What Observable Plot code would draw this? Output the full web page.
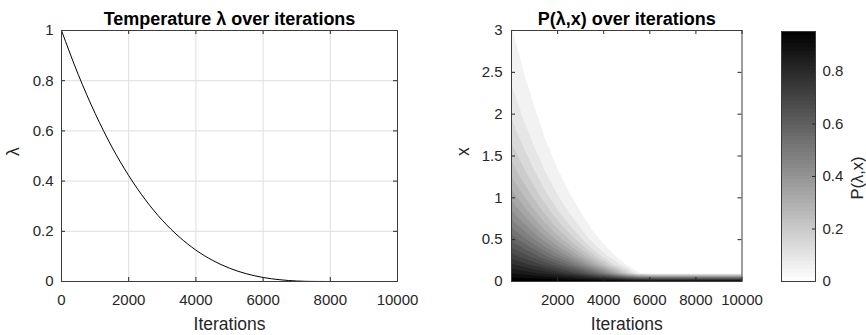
<!DOCTYPE html>
<html><head><meta charset="utf-8">
<script src="https://cdn.jsdelivr.net/npm/d3@7"></script>
<script src="https://cdn.jsdelivr.net/npm/@observablehq/plot@0.6"></script>
<style>
html,body{margin:0;padding:0;background:#fff;}
#wrap{position:relative;width:866px;height:335px;overflow:hidden;background:#fff;}
#wrap svg{position:absolute;top:0;}
</style></head><body><div id="wrap"></div>
<script>
const FONT = "'Liberation Sans', Arial, Helvetica, sans-serif";
const INK = "#262626";

// ---- Left chart: temperature lambda over iterations ----
const lambdaIterations = [0,500,1000,1500,2000,2500,3000,3500,4000,4500,5000,5500,6000,6500,7000,7500,8000,8500,9000,9500,10000];
const lambdaValues = [1.0,0.824,0.67,0.536,0.422,0.325,0.244,0.178,0.125,0.084,0.053,0.031,0.016,0.007,0.002,0.0003,0,0,0,0,0];
const lambdaXTicks = [0,2000,4000,6000,8000,10000];
const lambdaYTicks = [0,0.2,0.4,0.6,0.8,1];

// ---- Right chart: P(lambda, x) over iterations (columns = iterations, rows = x) ----
const probIterations = [0,500,1000,1500,2000,2500,3000,3500,4000,4500,5000,5500,6000,6500,7000,7500,8000,8500,9000,9500,10000];
const probX = [0,0.1,0.2,0.3,0.4,0.5,0.6,0.7,0.8,0.9,1,1.1,1.2,1.3,1.4,1.5,1.6,1.7,1.8,1.9,2,2.1,2.2,2.3,2.4,2.5,2.6,2.7,2.8,2.9,3];
const p0000 = [1,0.905,0.819,0.741,0.670,0.607,0.549,0.497,0.449,0.407,0.368,0.333,0.301,0.273,0.247,0.223,0.202,0.183,0.165,0.150,0.135,0.122,0.111,0.100,0.091,0.082,0.074,0.067,0.061,0.055,0.050];
const p0500 = [1,0.886,0.786,0.697,0.618,0.547,0.485,0.430,0.381,0.338,0.300,0.266,0.236,0.209,0.185,0.164,0.145,0.129,0.114,0.101,0.090,0.080,0.071,0.063,0.055,0.049,0.044,0.039,0.034,0.030,0.027];
const p1000 = [1,0.863,0.745,0.643,0.555,0.479,0.414,0.357,0.308,0.266,0.230,0.198,0.171,0.148,0.128,0.110,0.095,0.082,0.071,0.061,0.053,0.046,0.039,0.034,0.029,0.025,0.022,0.019,0.016,0.014,0.012];
const p1500 = [1,0.834,0.695,0.580,0.483,0.403,0.336,0.280,0.234,0.195,0.162,0.135,0.113,0.094,0.078,0.065,0.055,0.045,0.038,0.032,0.026,0.022,0.018,0.015,0.013,0.011,0.009,0.007,0.006,0.005,0.004];
const p2000 = [1,0.797,0.635,0.506,0.403,0.321,0.256,0.204,0.162,0.129,0.103,0.082,0.065,0.052,0.041,0.033,0.026,0.021,0.017,0.013,0.011,0.008,0.007,0.005,0.004];
const p2500 = [1,0.751,0.565,0.424,0.319,0.240,0.180,0.135,0.102,0.076,0.057,0.043,0.032,0.024,0.018,0.014,0.010,0.008,0.006,0.004];
const p3000 = [1,0.690,0.477,0.329,0.227,0.157,0.108,0.075,0.052,0.036,0.025,0.017,0.012,0.008,0.006,0.004];
const p3500 = [1,0.607,0.368,0.223,0.135,0.082,0.050,0.030,0.018,0.011,0.007,0.004];
const p4000 = [1,0.502,0.252,0.126,0.063,0.032,0.016,0.008,0.004];
const p4500 = [1,0.368,0.135,0.050,0.018,0.007,0.002];
const p5000 = [1,0.215,0.046,0.010,0.002];
const p5500 = [1,0.057,0.003];
const p6000 = [1,0.003];
const p6500 = [1];
const p7000 = [1];
const p7500 = [1];
const p8000 = [1];
const p8500 = [1];
const p9000 = [1];
const p9500 = [1];
const p10000 = [1];
const probColumns = [p0000,p0500,p1000,p1500,p2000,p2500,p3000,p3500,p4000,p4500,p5000,p5500,p6000,p6500,p7000,p7500,p8000,p8500,p9000,p9500,p10000];
const probXTicks = [2000,4000,6000,8000,10000];
const probYTicks = [0,0.5,1,1.5,2,2.5,3];
const probLevels = d3.range(1, 21).map(k => k / 21);
const colorMax = 20 / 21;
const colorbarTicks = [0,0.2,0.4,0.6,0.8];

const wrap = document.getElementById("wrap");
const baseStyle = {fontFamily: FONT, fontSize: "15px", color: INK, background: "transparent", overflow: "visible"};
const fmt = d => String(d);

function place(svg, left) {
  svg.style.left = left + "px";
  wrap.appendChild(svg);
}

// ---------- Left plot ----------
{
  const W = 430, mL = 61, mR = 33, mT = 30, mB = 54;
  const fw = W - mL - mR, fh = 335 - mT - mB;
  const svg = Plot.plot({
    width: W, height: 335, marginLeft: mL, marginRight: mR, marginTop: mT, marginBottom: mB,
    style: baseStyle,
    x: {domain: [0, 10000]},
    y: {domain: [0, 1]},
    marks: [
      Plot.gridX(lambdaXTicks, {stroke: "#dedede", strokeOpacity: 1}),
      Plot.gridY(lambdaYTicks, {stroke: "#dedede", strokeOpacity: 1}),
      Plot.line(lambdaValues, {x: lambdaIterations, y: lambdaValues, stroke: "#000", strokeWidth: 1, curve: "monotone-x"}),
      Plot.tickX(lambdaXTicks, {x: d => d, stroke: INK, insetTop: fh - 4}),
      Plot.tickX(lambdaXTicks, {x: d => d, stroke: INK, insetBottom: fh - 4}),
      Plot.tickY(lambdaYTicks, {y: d => d, stroke: INK, insetRight: fw - 4}),
      Plot.tickY(lambdaYTicks, {y: d => d, stroke: INK, insetLeft: fw - 4}),
      Plot.frame({stroke: "#3c3c3c"}),
      Plot.axisX(lambdaXTicks, {anchor: "bottom", tickSize: 0, tickPadding: 13, tickFormat: fmt, label: null}),
      Plot.axisY(lambdaYTicks, {anchor: "left", tickSize: 0, tickPadding: 8, tickFormat: fmt, label: null}),
      Plot.text(["Temperature λ over iterations"], {text: d => d, frameAnchor: "top", dy: -11, fontSize: 18, fontWeight: "bold", fill: "#000", lineAnchor: "middle"}),
      Plot.text(["Iterations"], {text: d => d, frameAnchor: "bottom", dy: 43, fontSize: 17.5, fill: INK, lineAnchor: "middle"}),
      Plot.text(["λ"], {text: d => d, frameAnchor: "left", dx: -48, rotate: -90, fontSize: 17.5, fill: INK, lineAnchor: "middle"})
    ]
  });
  place(svg, 0);
}

// ---------- Right plot ----------
{
  const W = 340, mL = 81, mR = 28.5, mT = 30, mB = 54;
  const fw = W - mL - mR, fh = 335 - mT - mB;
  const nCol = probIterations.length, nRow = probX.length;
  const grid = new Array(nCol * nRow);
  for (let r = 0; r < nRow; ++r)
    for (let c = 0; c < nCol; ++c)
      grid[r * nCol + c] = probColumns[c][r] ?? 0;
  const dt = probIterations[1] - probIterations[0];
  const dx = probX[1] - probX[0];
  const svg = Plot.plot({
    width: W, height: 335, marginLeft: mL, marginRight: mR, marginTop: mT, marginBottom: mB,
    style: baseStyle,
    x: {domain: [0, 10000]},
    y: {domain: [0, 3]},
    color: {type: "linear", domain: [0, colorMax], range: ["#ffffff", "#000000"], clamp: true},
    marks: [
      Plot.contour(grid, {
        width: nCol, height: nRow,
        x1: probIterations[0] - dt / 2, x2: probIterations[nCol - 1] + dt / 2,
        y1: probX[0] - dx / 2, y2: probX[nRow - 1] + dx / 2,
        thresholds: probLevels, fill: Plot.identity, clip: true
      }),
      Plot.tickX(probXTicks, {x: d => d, stroke: INK, insetTop: fh - 4}),
      Plot.tickX(probXTicks, {x: d => d, stroke: INK, insetBottom: fh - 4}),
      Plot.tickY(probYTicks, {y: d => d, stroke: INK, insetRight: fw - 4}),
      Plot.tickY(probYTicks, {y: d => d, stroke: INK, insetLeft: fw - 4}),
      Plot.frame({stroke: "#3c3c3c"}),
      Plot.axisX(probXTicks, {anchor: "bottom", tickSize: 0, tickPadding: 13, tickFormat: fmt, label: null}),
      Plot.axisY(probYTicks, {anchor: "left", tickSize: 0, tickPadding: 9, tickFormat: fmt, label: null}),
      Plot.text(["P(λ,x) over iterations"], {text: d => d, frameAnchor: "top", dy: -11, fontSize: 18, fontWeight: "bold", fill: "#000", lineAnchor: "middle"}),
      Plot.text(["Iterations"], {text: d => d, frameAnchor: "bottom", dy: 43, fontSize: 17.5, fill: INK, lineAnchor: "middle"}),
      Plot.text(["x"], {text: d => d, frameAnchor: "left", dx: -48, rotate: -90, fontSize: 17.5, fill: INK, lineAnchor: "middle"})
    ]
  });
  place(svg, 430);
}

// ---------- Colorbar ----------
{
  const W = 106, mL = 21, mR = 51, mT = 31, mB = 54;
  const fw = W - mL - mR;
  const steps = d3.range(64).map(i => ({a: i * colorMax / 64, b: (i + 1) * colorMax / 64}));
  const svg = Plot.plot({
    width: W, height: 335, marginLeft: mL, marginRight: mR, marginTop: mT, marginBottom: mB,
    style: baseStyle,
    x: {domain: [0, 1], axis: null},
    y: {domain: [0, colorMax]},
    color: {type: "linear", domain: [0, colorMax], range: ["#ffffff", "#000000"]},
    marks: [
      Plot.rect(steps, {x1: 0, x2: 1, y1: "a", y2: "b", fill: d => (d.a + d.b) / 2, shapeRendering: "crispEdges"}),
      Plot.tickY(colorbarTicks, {y: d => d, stroke: INK, insetLeft: fw - 3}),
      Plot.frame({stroke: "#3c3c3c"}),
      Plot.axisY(colorbarTicks, {anchor: "right", tickSize: 0, tickPadding: 7, tickFormat: fmt, label: null}),
      Plot.text(["P(λ,x)"], {text: d => d, frameAnchor: "right", dx: 42, rotate: -90, fontSize: 16.5, fill: INK, lineAnchor: "middle"})
    ]
  });
  place(svg, 760);
}
</script></body></html>
